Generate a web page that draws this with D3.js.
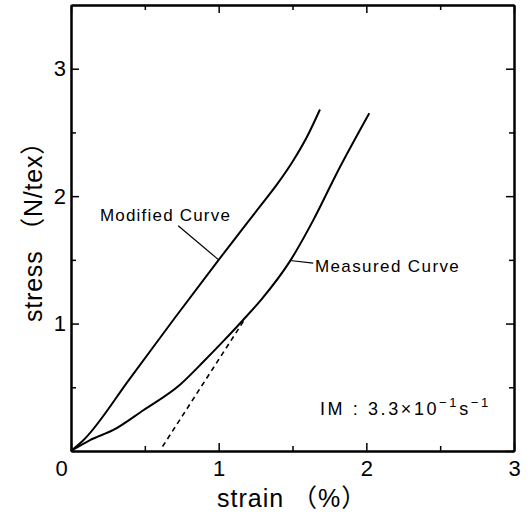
<!DOCTYPE html>
<html>
<head>
<meta charset="utf-8">
<script src="https://cdn.jsdelivr.net/npm/d3@7"></script>
<style>
  body { margin: 0; background: #fff; }
  svg { display: block; font-family: "Liberation Sans", Arial, "Noto Sans CJK JP", sans-serif; }
  .axis path, .axis line { stroke: #000; }
  .axis path { stroke-width: 2; }
  .axis line { stroke-width: 1.5; }
  .axis text { font-size: 22px; fill: #000; }
</style>
</head>
<body>
<svg id="chart"></svg>
<script>
// stress-strain curves, values (strain %, stress N/tex)
const modifiedStrain = [0, 0.08, 0.4, 0.7, 1.0, 1.28, 1.4, 1.5, 1.6, 1.686];
const modifiedStress = [0, 0.08, 0.57, 1.04, 1.5, 1.92, 2.1, 2.27, 2.47, 2.68];

const measuredStrain = [0, 0.129, 0.287, 0.49, 0.738, 0.896, 1.03, 1.167, 1.29, 1.483, 1.64, 1.8, 2.02];
const measuredStress = [0, 0.086, 0.165, 0.32, 0.52, 0.70, 0.86, 1.03, 1.19, 1.49, 1.81, 2.18, 2.65];

const tangentStrain = [0.62, 1.18];
const tangentStress = [0.035, 1.04];

const xMajor = [0, 1, 2, 3];
const xMinor = [0.5, 1.5, 2.5];
const yMajor = [0, 1, 2, 3];
const yMinor = [0.5, 1.5, 2.5];

const margin = {top: 5, right: 18, bottom: 70, left: 71};
const width = 532 - margin.left - margin.right;
const height = 521 - margin.top - margin.bottom;

const svg = d3.select("#chart")
    .attr("width", 532)
    .attr("height", 521);

const g = svg.append("g")
    .attr("transform", `translate(${margin.left},${margin.top})`);

const x = d3.scaleLinear().domain([0, 3]).range([0, width]);
const y = d3.scaleLinear().domain([0, 3.5]).range([height, 0]);

// frame with inward ticks
g.append("g").attr("class", "axis")
    .attr("transform", `translate(0,${height})`)
    .call(d3.axisBottom(x).tickValues(xMajor).tickSizeInner(-8).tickSizeOuter(0).tickPadding(9).tickFormat(d3.format("d")))
    .selectAll("text")
    .attr("dx", d => d === 0 ? -10 : 0);
g.append("g").attr("class", "axis")
    .attr("transform", `translate(0,${height})`)
    .call(d3.axisBottom(x).tickValues(xMinor).tickSizeInner(-5).tickSizeOuter(0).tickFormat(""));

g.append("g").attr("class", "axis")
    .call(d3.axisTop(x).tickValues(xMajor).tickSizeInner(-8).tickSizeOuter(0).tickFormat(""));
g.append("g").attr("class", "axis")
    .call(d3.axisTop(x).tickValues(xMinor).tickSizeInner(-5).tickSizeOuter(0).tickFormat(""));

g.append("g").attr("class", "axis")
    .call(d3.axisLeft(y).tickValues(yMajor.filter(d => d > 0)).tickSizeInner(-8).tickSizeOuter(0).tickPadding(5).tickFormat(d3.format("d")));
g.append("g").attr("class", "axis")
    .call(d3.axisLeft(y).tickValues(yMinor).tickSizeInner(-5).tickSizeOuter(0).tickFormat(""));

g.append("g").attr("class", "axis")
    .attr("transform", `translate(${width},0)`)
    .call(d3.axisRight(y).tickValues(yMajor).tickSizeInner(-8).tickSizeOuter(0).tickFormat(""));
g.append("g").attr("class", "axis")
    .attr("transform", `translate(${width},0)`)
    .call(d3.axisRight(y).tickValues(yMinor).tickSizeInner(-5).tickSizeOuter(0).tickFormat(""));

// curves
const line = d3.line()
    .x(d => x(d[0]))
    .y(d => y(d[1]))
    .curve(d3.curveMonotoneX);

g.append("path")
    .datum(d3.zip(modifiedStrain, modifiedStress))
    .attr("d", line)
    .attr("fill", "none")
    .attr("stroke", "#000")
    .attr("stroke-width", 2);

g.append("path")
    .datum(d3.zip(measuredStrain, measuredStress))
    .attr("d", line)
    .attr("fill", "none")
    .attr("stroke", "#000")
    .attr("stroke-width", 2);

g.append("path")
    .datum(d3.zip(tangentStrain, tangentStress))
    .attr("d", d3.line().x(d => x(d[0])).y(d => y(d[1])))
    .attr("fill", "none")
    .attr("stroke", "#000")
    .attr("stroke-width", 1.6)
    .attr("stroke-dasharray", "5,4");

// annotations (data units)
const leader = (x1, y1, x2, y2) => g.append("line")
    .attr("x1", x(x1)).attr("y1", y(y1))
    .attr("x2", x(x2)).attr("y2", y(y2))
    .attr("stroke", "#000").attr("stroke-width", 1.2);

leader(0.726, 1.767, 1.0, 1.5);
leader(1.483, 1.495, 1.64, 1.474);

g.append("text")
    .attr("x", x(0.196)).attr("y", y(1.807))
    .style("font-size", "17px").style("letter-spacing", "1.2px")
    .text("Modified Curve");

g.append("text")
    .attr("x", x(1.652)).attr("y", y(1.406))
    .style("font-size", "17px").style("letter-spacing", "1.4px")
    .text("Measured Curve");

const im = g.append("text")
    .attr("x", x(1.686)).attr("y", y(0.283))
    .style("font-size", "18px").style("letter-spacing", "2.6px");
im.append("tspan").text("IM : 3.3\u00d710");
im.append("tspan").attr("dy", -8).style("font-size", "13px").text("\u22121");
im.append("tspan").attr("dy", 8).text("s");
im.append("tspan").attr("dy", -8).style("font-size", "13px").text("\u22121");

// axis titles
svg.append("text")
    .attr("x", 217).attr("y", 507)
    .style("font-size", "25px").style("letter-spacing", "1px")
    .text("strain \uff08%\uff09");

svg.append("text")
    .attr("transform", "translate(42,322) rotate(-90)")
    .style("font-size", "25px").style("letter-spacing", "0.8px")
    .text("stress \uff08N/tex\uff09");
</script>
</body>
</html>
